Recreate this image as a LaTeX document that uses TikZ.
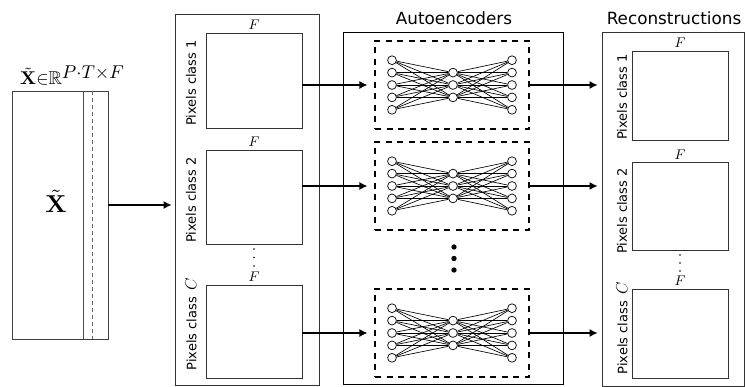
\documentclass[tikz,border=0pt]{standalone}
\usepackage{graphicx}
\usepackage{amsmath,amssymb}
\usepackage[no-math]{fontspec}
\newfontfamily\dv{DejaVu Sans}
\usetikzlibrary{arrows.meta}

\begin{document}
\begin{tikzpicture}[x=1pt,y=-1pt,
  frame/.style={draw=black!80,line width=0.8pt,inner sep=0pt},
  cell/.style={frame,minimum width=96pt},
  aebox/.style={draw=black,line width=1.1pt,dash pattern=on 6pt off 5.5pt,
    minimum width=154pt,minimum height=88pt,inner sep=0pt},
  arr/.style={line width=1.3pt,-{Latex[length=8pt,width=8pt]}},
  neuron/.style={circle,draw=black,fill=white,line width=0.7pt,minimum size=8.8pt,inner sep=0pt},
  bigdot/.style={circle,fill=black,minimum size=5.4pt,inner sep=0pt},
  smalldot/.style={circle,fill=black,minimum size=1.9pt,inner sep=0pt},
  flabel/.style={inner sep=0pt},
  clabel/.style={inner sep=0pt,rotate=90,font=\dv\fontsize{13}{13}\selectfont},
  header/.style={inner sep=0pt,anchor=base,font=\dv\fontsize{16.8}{17}\selectfont},
  autoenc/.pic={
    \foreach \i in {1,...,5} \node[neuron] (-l\i) at (-60,{(\i-3)*12.4}) {};
    \foreach \j in {1,2,3} \node[neuron] (-m\j) at (1,{(\j-2)*12.4}) {};
    \foreach \i in {1,...,5} \node[neuron] (-r\i) at (60,{(\i-3)*12.4}) {};
    \foreach \i in {1,...,5}
      \foreach \j in {1,2,3} {
        \draw[line width=0.65pt] (-l\i) -- (-m\j);
        \draw[line width=0.65pt] (-m\j) -- (-r\i);
      }
  }]
\useasboundingbox (0,0) rectangle (745,387);

\newcommand{\FF}{\scalebox{1.4}{$F$}}
\newcommand{\CC}{\scalebox{1.35}{$C$}}

% ---- input matrix ----
\node[draw=black!75,line width=0.8pt,minimum width=96pt,minimum height=248pt,inner sep=0pt]
  (xbox) at (60,215) {};
\draw[black!70,line width=0.8pt] (83,91) -- (83,339);
\draw[black!60,line width=0.8pt,dash pattern=on 4pt off 3pt] (92,91) -- (92,339);
\node[inner sep=0pt,anchor=base west]
  (xlabel) at (20,85) {\scalebox{1.85}{$\tilde{\mathbf{X}}{\in}\mathbb{R}^{\textstyle P{\cdot}T{\times}F}$}};
\node[inner sep=0pt,anchor=base]
  (xsym) at (56,213) {\scalebox{2.45}{$\tilde{\mathbf{X}}$}};

% ---- pixels grouped by class ----
\node[frame,minimum width=144pt,minimum height=371pt] (midbox) at (247,199.5) {};
\node[cell,minimum height=95pt] (sq1) at (254,80.5) {};
\node[cell,minimum height=94pt] (sq2) at (254,197) {};
\node[cell,minimum height=93pt] (sq3) at (254,331.5) {};
\node[flabel] (f1) at (254,25) {\FF};
\node[flabel] (f2) at (254,142) {\FF};
\node[flabel] (f3) at (254,276.5) {\FF};
\node[smalldot] (v1) at (254,249) {};
\node[smalldot] (v2) at (254,257.5) {};
\node[smalldot] (v3) at (254,266) {};
\node[clabel] (p1) at (191,83) {Pixels class 1};
\node[clabel] (p2) at (191,200) {Pixels class 2};
\node[clabel] (p3) at (191,324) {Pixels class\hspace{3pt} \CC};

% ---- autoencoders ----
\node[header] (hae) at (454,25) {Autoencoders};
\node[frame,draw=black,minimum width=220pt,minimum height=352pt] (aeframe) at (453,208) {};
\node[aebox] (ae1) at (452,85) {};
\node[aebox] (ae2) at (452,186) {};
\node[aebox] (ae3) at (452,333) {};
\pic (net1) at (ae1.center) {autoenc};
\pic (net2) at (ae2.center) {autoenc};
\pic (net3) at (ae3.center) {autoenc};
\node[bigdot] (d1) at (454,247) {};
\node[bigdot] (d2) at (454,258.5) {};
\node[bigdot] (d3) at (454,270) {};

% ---- reconstructions ----
\node[header] (hrc) at (674,25) {Reconstructions};
\node[frame,minimum width=142pt,minimum height=354pt] (rcbox) at (673,209) {};
\node[cell,minimum height=89pt] (rc1) at (680,95.5) {};
\node[cell,minimum height=88pt] (rc2) at (680,206) {};
\node[cell,minimum height=89pt] (rc3) at (680,333.5) {};
\node[flabel] (g1) at (680,43) {\FF};
\node[flabel] (g2) at (680,155) {\FF};
\node[flabel] (g3) at (680,281) {\FF};
\node[smalldot] (w1) at (680,255) {};
\node[smalldot] (w2) at (680,263) {};
\node[smalldot] (w3) at (680,271) {};
\node[clabel] (q1) at (622,97) {Pixels class 1};
\node[clabel] (q2) at (622,211) {Pixels class 2};
\node[clabel] (q3) at (622,328) {Pixels class\hspace{3pt} \CC};

% ---- connectors ----
\coordinate (xout) at (108,205);
\draw[arr] (xout) -- ([xshift=-3pt]midbox.west |- xout);
\foreach \k in {1,2,3} {
  \draw[arr] (sq\k.east |- ae\k.west) -- ([xshift=-7pt]ae\k.west);
  \draw[arr] (ae\k.east) -- ([xshift=-4pt]rcbox.west |- ae\k.east);
}
\end{tikzpicture}
\end{document}
